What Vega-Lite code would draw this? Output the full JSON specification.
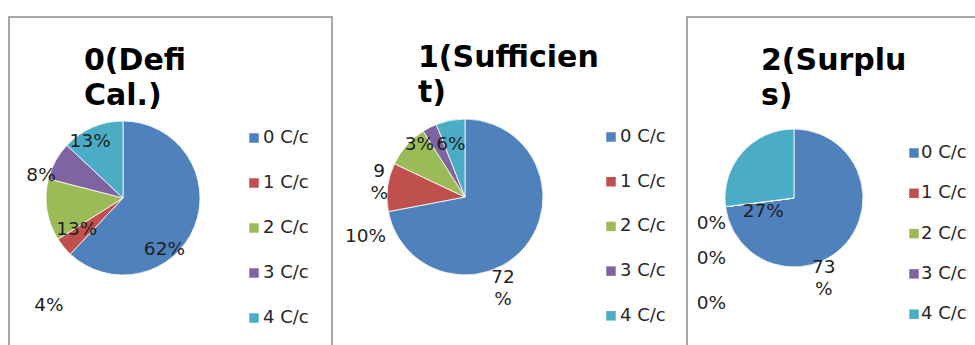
{
  "$schema": "https://vega.github.io/schema/vega-lite/v6.json",
  "background": "white",
  "padding": {"left": 8, "top": 16, "right": 0, "bottom": 0},
  "bounds": "flush",
  "spacing": 0,
  "config": {
    "view": {"stroke": "#8a8a8a", "strokeWidth": 1.5},
    "title": {
      "font": "DejaVu Sans",
      "fontSize": 30,
      "fontWeight": "bold",
      "color": "#000000",
      "anchor": "start",
      "frame": "group",
      "baseline": "bottom",
      "lineHeight": 35
    },
    "legend": {
      "orient": "none",
      "direction": "vertical",
      "title": null,
      "symbolType": "square",
      "symbolSize": 90,
      "symbolStrokeWidth": 0,
      "labelFont": "DejaVu Sans",
      "labelFontSize": 18,
      "labelColor": "#262626",
      "labelOffset": 0
    },
    "text": {"font": "DejaVu Sans", "fontSize": 18.5, "color": "#1f1f1f", "align": "center", "baseline": "middle"}
  },
  "datasets": {
    "deficient": [
      {"cat": "0 C/c", "pct": 62},
      {"cat": "1 C/c", "pct": 4},
      {"cat": "2 C/c", "pct": 13},
      {"cat": "3 C/c", "pct": 8},
      {"cat": "4 C/c", "pct": 13}
    ],
    "sufficient": [
      {"cat": "0 C/c", "pct": 72},
      {"cat": "1 C/c", "pct": 10},
      {"cat": "2 C/c", "pct": 9},
      {"cat": "3 C/c", "pct": 3},
      {"cat": "4 C/c", "pct": 6}
    ],
    "surplus": [
      {"cat": "0 C/c", "pct": 73},
      {"cat": "1 C/c", "pct": 0},
      {"cat": "2 C/c", "pct": 0},
      {"cat": "3 C/c", "pct": 0},
      {"cat": "4 C/c", "pct": 27}
    ]
  },
  "resolve": {
    "scale": {"color": "independent", "theta": "independent"},
    "legend": {"color": "independent"}
  },
  "hconcat": [
    {
      "width": 323,
      "height": 340,
      "data": {"name": "deficient"},
      "title": {"text": ["0(Defi", "Cal.)"], "dx": 75, "offset": -94},
      "encoding": {
        "theta": {"field": "pct", "type": "quantitative", "stack": true},
        "order": {"field": "cat", "type": "ordinal"},
        "x": {"value": 114},
        "y": {"value": 181}
      },
      "layer": [
        {
          "mark": {"type": "arc", "outerRadius": 77, "stroke": "#ffffff", "strokeWidth": 0.8},
          "encoding": {
            "color": {
              "field": "cat",
              "type": "nominal",
              "scale": {"domain": ["0 C/c", "1 C/c", "2 C/c", "3 C/c", "4 C/c"], "range": ["#4F81BD", "#C0504D", "#9BBB59", "#8064A2", "#4BACC6"]},
              "legend": {"legendX": 236, "legendY": 112, "rowPadding": 27}
            }
          }
        },
        {
          "transform": [{"calculate": "datum.pct + '%'", "as": "lbl"}],
          "mark": {
            "type": "text", "radius": 65,
            "dx": {"expr": "datum.cat == '0 C/c' ? -19 : datum.cat == '1 C/c' ? -24 : datum.cat == '2 C/c' ? 18 : datum.cat == '3 C/c' ? -25 : -7"},
            "dy": {"expr": "datum.cat == '0 C/c' ? 27 : datum.cat == '1 C/c' ? 66 : datum.cat == '2 C/c' ? 21 : datum.cat == '3 C/c' ? 8 : 3"}
          },
          "encoding": {"text": {"field": "lbl", "type": "nominal"}}
        }
      ]
    },
    {
      "width": 355,
      "height": 340,
      "view": {"stroke": null},
      "data": {"name": "sufficient"},
      "title": {"text": ["1(Sufficien", "t)"], "dx": 86, "offset": -91},
      "encoding": {
        "theta": {"field": "pct", "type": "quantitative", "stack": true},
        "order": {"field": "cat", "type": "ordinal"},
        "x": {"value": 133},
        "y": {"value": 180}
      },
      "layer": [
        {
          "mark": {"type": "arc", "outerRadius": 78, "stroke": "#ffffff", "strokeWidth": 0.8},
          "encoding": {
            "color": {
              "field": "cat",
              "type": "nominal",
              "scale": {"domain": ["0 C/c", "1 C/c", "2 C/c", "3 C/c", "4 C/c"], "range": ["#4F81BD", "#C0504D", "#9BBB59", "#8064A2", "#4BACC6"]},
              "legend": {"legendX": 270, "legendY": 111, "rowPadding": 26.7}
            }
          }
        },
        {
          "transform": [{"calculate": "datum.cat == '0 C/c' || datum.cat == '2 C/c' ? datum.pct + '\\n%' : datum.pct + '%'", "as": "lbl"}],
          "mark": {
            "type": "text", "radius": 65, "lineBreak": "\n", "lineHeight": 22,
            "dx": {"expr": "datum.cat == '0 C/c' ? -12 : datum.cat == '1 C/c' ? -35 : datum.cat == '2 C/c' ? -37 : datum.cat == '3 C/c' ? -16 : -2"},
            "dy": {"expr": "datum.cat == '0 C/c' ? 39 : datum.cat == '1 C/c' ? 47 : datum.cat == '2 C/c' ? 17 : datum.cat == '3 C/c' ? 5 : 11"}
          },
          "encoding": {"text": {"field": "lbl", "type": "nominal"}}
        }
      ]
    },
    {
      "width": 300,
      "height": 340,
      "data": {"name": "surplus"},
      "title": {"text": ["2(Surplu", "s)"], "dx": 74, "offset": -94},
      "encoding": {
        "theta": {"field": "pct", "type": "quantitative", "stack": true},
        "order": {"field": "cat", "type": "ordinal"},
        "x": {"value": 107},
        "y": {"value": 181}
      },
      "layer": [
        {
          "mark": {"type": "arc", "outerRadius": 69, "stroke": "#ffffff", "strokeWidth": 0.8},
          "encoding": {
            "color": {
              "field": "cat",
              "type": "nominal",
              "scale": {"domain": ["0 C/c", "1 C/c", "2 C/c", "3 C/c", "4 C/c"], "range": ["#4F81BD", "#C0504D", "#9BBB59", "#8064A2", "#4BACC6"]},
              "legend": {"legendX": 218, "legendY": 127, "rowPadding": 22.3, "labelOffset": -2}
            }
          }
        },
        {
          "transform": [{"calculate": "datum.cat == '0 C/c' ? datum.pct + '\\n%' : datum.pct + '%'", "as": "lbl"}],
          "mark": {
            "type": "text", "radius": 65, "lineBreak": "\n", "lineHeight": 22,
            "dx": {"expr": "datum.cat == '0 C/c' ? -19 : datum.cat == '4 C/c' ? 18 : -18"},
            "dy": {"expr": "datum.cat == '0 C/c' ? 26 : datum.cat == '4 C/c' ? 56 : datum.cat == '1 C/c' ? 17 : datum.cat == '2 C/c' ? 52 : 97"}
          },
          "encoding": {"text": {"field": "lbl", "type": "nominal"}}
        }
      ]
    }
  ]
}
